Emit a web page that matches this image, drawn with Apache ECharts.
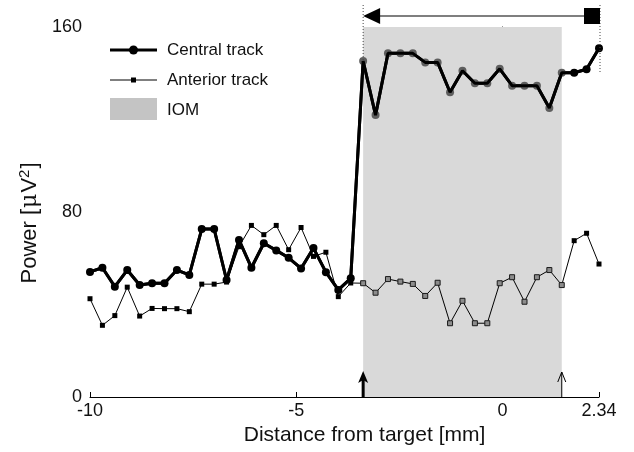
<!DOCTYPE html>
<html><head><meta charset="utf-8">
<script src="https://cdn.jsdelivr.net/npm/echarts@6/dist/echarts.min.js"></script>
<style>html,body{margin:0;padding:0;background:#fff}#c{width:634px;height:452px}</style>
</head><body><div id="c"></div>
<script>
// Recording positions (mm from target)
const distance = [-10, -9.699, -9.398, -9.097, -8.796, -8.495, -8.194, -7.893, -7.592, -7.291,
  -6.990, -6.689, -6.388, -6.087, -5.786, -5.485, -5.184, -4.883, -4.582, -4.281,
  -3.980, -3.679, -3.378, -3.077, -2.776, -2.475, -2.174, -1.873, -1.572, -1.271,
  -0.970, -0.669, -0.368, -0.067, 0.233, 0.534, 0.835, 1.136, 1.437, 1.738, 2.039, 2.34];
// Power values (µV^2)
const central = [54.1, 55.9, 47.7, 54.9, 48.4, 49.2, 49.2, 54.9, 52.8, 72.6,
  72.6, 50.6, 67.9, 55.9, 66.5, 63.4, 60.2, 55.6, 64.4, 54.0,
  46.3, 51.3, 145.3, 121.9, 148.6, 148.6, 148.6, 144.7, 144.7, 131.8,
  141.1, 135.7, 135.7, 141.9, 134.6, 134.6, 134.6, 125.0, 140.2, 140.2, 141.7, 150.8];
const anterior = [42.5, 31.0, 35.2, 47.5, 35.0, 38.3, 38.2, 38.2, 36.9, 48.8,
  48.8, 49.7, 65.0, 74.2, 70.2, 74.2, 63.7, 73.3, 60.8, 62.6,
  43.4, 49.3, 49.2, 45.1, 51.0, 49.9, 48.9, 43.7, 49.4, 31.9,
  41.6, 31.9, 31.9, 49.2, 51.8, 41.2, 51.8, 54.9, 48.4, 67.6, 70.8, 57.5];
const iomRange = [-3.378, 1.437];
const xTicks = [-10, -5, 0, 2.34];
const yTicks = [0, 80, 160];
const seriesNames = ['Central track', 'Anterior track', 'IOM'];

const FONT = '"Liberation Sans", Arial, sans-serif';
const inIOM = x => x >= iomRange[0] - 1e-6 && x <= iomRange[1] + 1e-6;

const centralData = distance.map((x, i) => ({
  value: [x, central[i]],
  itemStyle: { color: inIOM(x) ? '#5e5e5e' : '#000' }
}));
const anteriorData = distance.map((x, i) => ({
  value: [x, anterior[i]],
  itemStyle: inIOM(x) ? { color: '#8c8c8c', borderColor: '#1a1a1a', borderWidth: 1 } : { color: '#000' }
}));

const chart = echarts.init(document.getElementById('c'), null, { renderer: 'canvas' });
chart.setOption({
  animation: false,
  backgroundColor: '#fff',
  textStyle: { fontFamily: FONT },
  grid: { left: 90, right: 35, top: 27, bottom: 55, containLabel: false },
  xAxis: {
    type: 'value', min: xTicks[0], max: xTicks[xTicks.length - 1],
    name: 'Distance from target [mm]', nameLocation: 'middle', nameGap: 28,
    nameTextStyle: { fontSize: 21, color: '#111', fontFamily: FONT, padding: [0, 0, 0, 40] },
    axisLine: { lineStyle: { color: '#000', width: 1 } },
    axisTick: { inside: true, length: 5, customValues: xTicks, lineStyle: { color: '#000' } },
    axisLabel: { customValues: xTicks, fontSize: 18, color: '#111', margin: 5, fontFamily: FONT,
      formatter: v => String(v) },
    splitLine: { show: false }
  },
  yAxis: {
    type: 'value', min: yTicks[0], max: yTicks[yTicks.length - 1], interval: 80,
    name: '{a|Power [}{mu|μ}{a|V}{sup|2}{a|]}', nameLocation: 'middle', nameGap: 40, nameRotate: 90,
    nameTextStyle: { color: '#111', padding: [0, 22, 0, 0], rich: {
      a: { fontSize: 22, fontFamily: FONT, color: '#111' },
      mu: { fontSize: 22, fontFamily: '"DejaVu Serif", serif', color: '#111', padding: [0, 1, 0, 1] },
      sup: { fontSize: 15, fontFamily: FONT, color: '#111', verticalAlign: 'top', padding: [0, 1, 10, 0] }
    } },
    axisLine: { show: true, lineStyle: { color: '#000', width: 1 } },
    axisTick: { show: true, inside: true, length: 5, lineStyle: { color: '#000' } },
    axisLabel: { fontSize: 18, color: '#111', margin: 8, fontFamily: FONT },
    splitLine: { show: false }
  },
  series: [
    {
      name: seriesNames[2], type: 'line', data: [], z: 1, silent: true,
      markArea: { silent: true, itemStyle: { color: '#d9d9d9' },
        data: [[{ xAxis: iomRange[0] }, { xAxis: iomRange[1] }]] }
    },
    {
      name: seriesNames[0], type: 'line', data: centralData, z: 3,
      symbol: 'circle', symbolSize: 8, showAllSymbol: true,
      lineStyle: { color: '#000', width: 3 }, clip: false
    },
    {
      name: seriesNames[0] + ' line', type: 'line', data: centralData, z: 4,
      symbol: 'none', lineStyle: { color: '#000', width: 3 }, silent: true, clip: false
    },
    {
      name: seriesNames[1], type: 'line', data: anteriorData, z: 5,
      symbol: 'rect', symbolSize: 5, showAllSymbol: true,
      lineStyle: { color: '#000', width: 1 }, clip: false
    }
  ]
});

function px(x, y) { return chart.convertToPixel({ xAxisIndex: 0, yAxisIndex: 0 }, [x, y]); }
const pL = px(iomRange[0], 0), pR = px(iomRange[1], 0);
const pStart = px(distance[22], central[22]);
const pEnd = px(distance[distance.length - 1], central[central.length - 1]);
const yTopArrow = 16;
const rx = pEnd[0] + 1;
const base = pL[1];
const legX = 110, legW = 47, legT = 167;
chart.setOption({
  graphic: [
    // dotted guides
    { type: 'line', shape: { x1: pL[0], y1: 5, x2: pL[0], y2: pStart[1] }, style: { stroke: '#444', lineWidth: 1, lineDash: [1, 2] }, z: 10 },
    { type: 'line', shape: { x1: rx, y1: 5, x2: rx, y2: pEnd[1] + 24 }, style: { stroke: '#444', lineWidth: 1, lineDash: [1, 2] }, z: 10 },
    // top arrow
    { type: 'line', shape: { x1: pL[0] + 10, y1: yTopArrow, x2: rx - 8, y2: yTopArrow }, style: { stroke: '#000', lineWidth: 1.2 }, z: 10 },
    { type: 'polygon', shape: { points: [[pL[0], yTopArrow], [pL[0] + 17, yTopArrow - 8], [pL[0] + 17, yTopArrow + 8]] }, style: { fill: '#000' }, z: 10 },
    { type: 'rect', shape: { x: rx - 16, y: yTopArrow - 8, width: 16, height: 16 }, style: { fill: '#000' }, z: 10 },
    // bottom arrows
    { type: 'line', shape: { x1: pL[0], y1: base + 1, x2: pL[0], y2: base - 18 }, style: { stroke: '#000', lineWidth: 3 }, z: 10 },
    { type: 'polygon', shape: { points: [[pL[0], base - 26], [pL[0] + 5, base - 14], [pL[0], base - 17], [pL[0] - 5, base - 14]] }, style: { fill: '#000' }, z: 10 },
    { type: 'line', shape: { x1: pR[0], y1: base, x2: pR[0], y2: base - 25 }, style: { stroke: '#000', lineWidth: 1 }, z: 10 },
    { type: 'polyline', shape: { points: [[pR[0] - 4, base - 15], [pR[0], base - 25], [pR[0] + 4, base - 15]] }, style: { stroke: '#000', lineWidth: 1, fill: null }, z: 10 },
    // legend
    { type: 'line', shape: { x1: legX, y1: 50, x2: legX + legW, y2: 50 }, style: { stroke: '#000', lineWidth: 3 }, z: 10 },
    { type: 'circle', shape: { cx: legX + legW / 2, cy: 50, r: 4.5 }, style: { fill: '#000' }, z: 10 },
    { type: 'text', x: legT, y: 50, style: { text: seriesNames[0], font: '17px ' + FONT, fill: '#111', verticalAlign: 'middle' }, z: 10 },
    { type: 'line', shape: { x1: legX, y1: 80, x2: legX + legW, y2: 80 }, style: { stroke: '#000', lineWidth: 1 }, z: 10 },
    { type: 'rect', shape: { x: legX + legW / 2 - 2.5, y: 77.5, width: 5, height: 5 }, style: { fill: '#000' }, z: 10 },
    { type: 'text', x: legT, y: 80, style: { text: seriesNames[1], font: '17px ' + FONT, fill: '#111', verticalAlign: 'middle' }, z: 10 },
    { type: 'rect', shape: { x: legX, y: 98, width: legW, height: 22 }, style: { fill: '#c4c4c4' }, z: 10 },
    { type: 'text', x: legT, y: 110, style: { text: seriesNames[2], font: '17px ' + FONT, fill: '#111', verticalAlign: 'middle' }, z: 10 }
  ]
});
</script></body></html>
